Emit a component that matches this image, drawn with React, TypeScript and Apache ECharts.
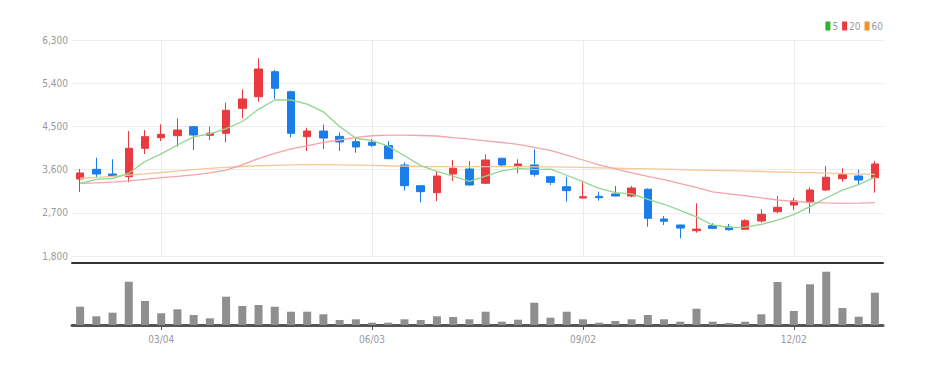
import React, { useEffect, useRef } from 'react';
import * as echarts from 'echarts';

const dates = [
  '01/29', '02/05', '02/12', '02/19', '02/26', '03/04', '03/11', '03/18', '03/25', '04/01',
  '04/08', '04/15', '04/22', '04/29', '05/06', '05/13', '05/20', '05/27', '06/03', '06/10',
  '06/17', '06/24', '07/01', '07/08', '07/15', '07/22', '07/29', '08/05', '08/12', '08/19',
  '08/26', '09/02', '09/09', '09/16', '09/23', '09/30', '10/07', '10/14', '10/21', '10/28',
  '11/04', '11/11', '11/18', '11/25', '12/02', '12/09', '12/16', '12/23', '12/30', '01/06',
];
const labeledDates = ['03/04', '06/03', '09/02', '12/02'];

const opens = [
  3404, 3606, 3508, 3452, 4044, 4265, 4306, 4494, 4314, 4356,
  4877, 5119, 5640, 5223, 4286, 4404, 4293, 4182, 4169, 4099,
  3696, 3265, 3119, 3508, 3613, 3315, 3835, 3661, 3696, 3452,
  3244, 3008, 3044, 3092, 3050, 3190, 2571, 2446, 2327, 2431,
  2404, 2356, 2529, 2723, 2863, 2931, 3175, 3410, 3467, 3431,
];
const closes = [
  3529, 3508, 3473, 4044, 4286, 4335, 4425, 4321, 4356, 4835,
  5071, 5696, 5294, 4356, 4404, 4258, 4175, 4071, 4106, 3827,
  3265, 3140, 3467, 3627, 3279, 3800, 3696, 3717, 3502, 3335,
  3161, 3035, 3015, 3050, 3217, 2585, 2523, 2383, 2360, 2377,
  2348, 2536, 2669, 2814, 2946, 3175, 3440, 3494, 3383, 3717,
];
const lows = [
  3133, 3425, 3468, 3335, 3925, 4196, 4078, 4008, 4217, 4169,
  4669, 5015, 5071, 4273, 3988, 4029, 3988, 3952, 4071, 3820,
  3161, 2919, 2946, 3363, 3270, 3300, 3675, 3522, 3452, 3279,
  2932, 3000, 2952, 3045, 3023, 2411, 2446, 2169, 2285, 2370,
  2327, 2342, 2494, 2690, 2758, 2690, 3154, 3348, 3279, 3119,
];
const highs = [
  3613, 3848, 3815, 4404, 4425, 4544, 4669, 4494, 4494, 4994,
  5273, 5919, 5675, 5244, 4473, 4536, 4377, 4273, 4238, 4190,
  3752, 3270, 3557, 3800, 3773, 3919, 3845, 3815, 4023, 3460,
  3452, 3335, 3140, 3258, 3258, 3210, 2633, 2450, 2898, 2481,
  2467, 2565, 2773, 3050, 3015, 3231, 3675, 3627, 3592, 3779,
];
const ma5 = [
  3315, 3398, 3419, 3523, 3768, 3929, 4113, 4282, 4345, 4454,
  4602, 4856, 5050, 5050, 4964, 4802, 4497, 4253, 4203, 4087,
  3889, 3682, 3561, 3465, 3356, 3463, 3574, 3624, 3599, 3610,
  3482, 3350, 3210, 3119, 3096, 2980, 2878, 2752, 2614, 2446,
  2398, 2401, 2458, 2549, 2663, 2828, 3009, 3174, 3288, 3442,
];
const ma20 = [
  3315, 3325, 3340, 3363, 3395, 3431, 3460, 3488, 3530, 3590,
  3700, 3830, 3940, 4030, 4095, 4165, 4217, 4270, 4305, 4320,
  4318, 4310, 4300, 4265, 4235, 4200, 4165, 4125, 4065, 4000,
  3900, 3800, 3700, 3615, 3530, 3460, 3390, 3310, 3230, 3135,
  3095, 3055, 3010, 2967, 2940, 2915, 2905, 2898, 2900, 2910,
];
const ma60 = [
  3420, 3440, 3460, 3485, 3510, 3540, 3570, 3600, 3625, 3648,
  3665, 3680, 3690, 3700, 3705, 3705, 3700, 3695, 3690, 3680,
  3672, 3665, 3662, 3660, 3660, 3660, 3660, 3660, 3658, 3655,
  3650, 3645, 3638, 3630, 3622, 3615, 3608, 3600, 3592, 3585,
  3578, 3570, 3560, 3550, 3542, 3535, 3525, 3515, 3508, 3502,
];
const volumes = [
  183000, 87000, 123000, 433000, 240000, 117000, 157000, 100000, 67000, 283000,
  190000, 200000, 183000, 133000, 133000, 107000, 50000, 57000, 23000, 23000,
  57000, 50000, 87000, 80000, 57000, 133000, 33000, 53000, 223000, 73000,
  133000, 57000, 23000, 40000, 57000, 100000, 57000, 33000, 163000, 33000,
  20000, 33000, 107000, 430000, 140000, 407000, 533000, 170000, 83000, 323000,
];

const UP = '#e83a3f';
const DOWN = '#1a7de8';
const FONT = "'Liberation Sans Narrow', 'DejaVu Sans Condensed', 'Roboto', sans-serif";

export default function App() {
  const ref = useRef<HTMLDivElement>(null);
  useEffect(() => {
    const chart = echarts.init(ref.current!, undefined, { renderer: 'svg' });
    const showIdx = (i: number) => labeledDates.includes(dates[i]);
    const candle = dates.map((_, i) => [opens[i], closes[i], lows[i], highs[i]]);
    chart.setOption({
      animation: false,
      backgroundColor: '#ffffff',
      textStyle: { fontFamily: FONT },
      legend: {
        right: 46,
        top: 16,
        itemWidth: 5,
        itemHeight: 9,
        itemGap: 4,
        icon: 'rect',
        textStyle: { color: '#999', fontSize: 10, fontFamily: FONT, padding: [0, 0, 0, -3] },
        data: [
          { name: '5', itemStyle: { color: '#2cb52c' } },
          { name: '20', itemStyle: { color: '#e83a3f' } },
          { name: '60', itemStyle: { color: '#f0922e' } },
        ],
      },
      grid: [
        { left: 72, top: 40, width: 811, height: 216, containLabel: false },
        { left: 72, top: 263, width: 811, height: 62, containLabel: false },
      ],
      xAxis: [
        {
          type: 'category',
          gridIndex: 0,
          data: dates,
          boundaryGap: true,
          axisLine: { show: false },
          axisTick: { show: false },
          axisLabel: { show: false },
          splitLine: {
            show: true,
            interval: (i: number) => showIdx(i),
            alignWithLabel: true,
            lineStyle: { color: '#ececec', width: 1 },
          },
        },
        {
          type: 'category',
          gridIndex: 1,
          data: dates,
          position: 'bottom',
          boundaryGap: true,
          axisLine: { show: true, onZero: false, lineStyle: { color: '#555', width: 3 } },
          axisTick: {
            show: true,
            alignWithLabel: true,
            interval: (i: number) => showIdx(i),
            length: 5,
            lineStyle: { color: '#555', width: 1 },
          },
          axisLabel: {
            interval: (i: number) => showIdx(i),
            color: '#999',
            fontSize: 10,
            fontFamily: FONT,
            margin: 9,
          },
          splitLine: { show: false },
        },
        {
          type: 'category',
          gridIndex: 1,
          data: dates,
          position: 'top',
          boundaryGap: true,
          axisLine: { show: true, onZero: false, lineStyle: { color: '#333', width: 2 } },
          axisTick: { show: false },
          axisLabel: { show: false },
          splitLine: { show: false },
        },
      ],
      yAxis: [
        {
          type: 'value',
          gridIndex: 0,
          min: 1800,
          max: 6300,
          interval: 900,
          axisLine: { show: false },
          axisTick: { show: false },
          axisLabel: {
            color: '#999',
            fontSize: 10,
            fontFamily: FONT,
            margin: 4,
            formatter: (v: number) => v.toLocaleString('en-US'),
          },
          splitLine: { show: true, lineStyle: { color: '#ececec', width: 1 } },
        },
        {
          type: 'value',
          gridIndex: 1,
          min: 0,
          max: 620000,
          show: false,
          splitLine: { show: false },
        },
      ],
      series: [
        {
          name: '60',
          type: 'line',
          xAxisIndex: 0,
          yAxisIndex: 0,
          data: ma60,
          symbol: 'none',
          color: '#f7c796',
          lineStyle: { color: '#f7c796', width: 1.3 },
        },
        {
          name: '20',
          type: 'line',
          xAxisIndex: 0,
          yAxisIndex: 0,
          data: ma20,
          symbol: 'none',
          color: '#f5a5a8',
          lineStyle: { color: '#f5a5a8', width: 1.3 },
        },
        {
          name: '5',
          type: 'line',
          xAxisIndex: 0,
          yAxisIndex: 0,
          data: ma5,
          symbol: 'none',
          color: '#8fd68f',
          lineStyle: { color: '#8fd68f', width: 1.3 },
        },
        {
          name: 'price',
          type: 'candlestick',
          xAxisIndex: 0,
          yAxisIndex: 0,
          data: candle,
          barWidth: 8,
          itemStyle: {
            color: UP,
            color0: DOWN,
            borderColor: UP,
            borderColor0: DOWN,
            borderWidth: 1,
          },
        },
        {
          name: 'volume',
          type: 'bar',
          xAxisIndex: 1,
          yAxisIndex: 1,
          data: volumes,
          barWidth: 8,
          itemStyle: { color: '#8f8f8f' },
        },
      ],
    });
    return () => chart.dispose();
  }, []);
  return (
    <div
      ref={ref}
      style={{ position: 'fixed', left: 0, top: 0, width: 934, height: 365 }}
    />
  );
}
